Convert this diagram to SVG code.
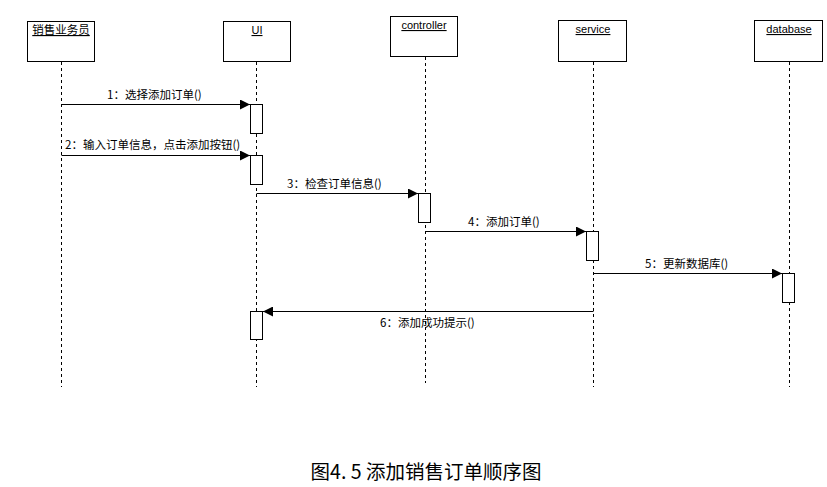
<svg xmlns="http://www.w3.org/2000/svg" width="827" height="487" viewBox="0 0 827 487">
<style>
.box{fill:#fff;stroke:#000;stroke-width:1}
.act{fill:#fff;stroke:#000;stroke-width:1}
.life{stroke:#000;stroke-width:1;stroke-dasharray:3,3;fill:none}
.msg{stroke:#000;stroke-width:1;fill:none}
.name{font-family:"Liberation Sans","Noto Sans CJK SC",sans-serif;font-size:11px;text-decoration:underline;text-anchor:middle;fill:#000}
.lbl{font-family:"Noto Sans CJK SC","DejaVu Sans",sans-serif;font-size:11.5px;fill:#000}
.cap{font-family:"Noto Sans CJK SC",sans-serif;font-size:19.5px;text-anchor:middle;fill:#000}
</style>
<defs>
<marker id="ah" viewBox="0 0 10 10" refX="10" refY="5" markerWidth="10" markerHeight="10" markerUnits="userSpaceOnUse" orient="auto">
<path d="M0,0 L10,5 L0,10 Z" fill="#000"/>
</marker>
</defs>
<rect width="827" height="487" fill="#fff"/>
<g id="lifelines">
<line class="life" x1="61.5" y1="62" x2="61.5" y2="387"/>
<line class="life" x1="256.5" y1="62" x2="256.5" y2="387"/>
<line class="life" x1="425.5" y1="57" x2="425.5" y2="383"/>
<line class="life" x1="593.5" y1="62" x2="593.5" y2="387"/>
<line class="life" x1="789.5" y1="62" x2="789.5" y2="387"/>
</g>
<g id="n-sales"><rect class="box" x="27.5" y="21.5" width="67" height="40"/><text class="name" x="61" y="34" style="font-family:'Noto Sans CJK SC',sans-serif;font-size:11.5px">销售业务员</text></g>
<g id="n-ui"><rect class="box" x="223.5" y="21.5" width="67" height="40"/><text class="name" x="257" y="34">UI</text></g>
<g id="n-controller"><rect class="box" x="390.5" y="16.5" width="67" height="40"/><text class="name" x="424" y="29">controller</text></g>
<g id="n-service"><rect class="box" x="558.5" y="20.5" width="68" height="41"/><text class="name" x="593" y="33">service</text></g>
<g id="n-database"><rect class="box" x="754.5" y="20.5" width="68" height="41"/><text class="name" x="789" y="33">database</text></g>
<g id="activations">
<rect class="act" x="250.5" y="104.5" width="12" height="29"/>
<rect class="act" x="250.5" y="155.5" width="12" height="29"/>
<rect class="act" x="418.5" y="193.5" width="12" height="29"/>
<rect class="act" x="586.5" y="231.5" width="12" height="29"/>
<rect class="act" x="782.5" y="273.5" width="12" height="29"/>
<rect class="act" x="250.5" y="311.5" width="12" height="28"/>
</g>
<g id="connectors">
<line class="msg" x1="61.5" y1="104.5" x2="250" y2="104.5" marker-end="url(#ah)"/>
<line class="msg" x1="61.5" y1="155.5" x2="250" y2="155.5" marker-end="url(#ah)"/>
<line class="msg" x1="256.5" y1="193.5" x2="418" y2="193.5" marker-end="url(#ah)"/>
<line class="msg" x1="425.5" y1="231.5" x2="586" y2="231.5" marker-end="url(#ah)"/>
<line class="msg" x1="593.5" y1="273.5" x2="782" y2="273.5" marker-end="url(#ah)"/>
<line class="msg" x1="593.5" y1="311.5" x2="263" y2="311.5" marker-end="url(#ah)"/>
</g>
<g id="labels">
<text class="lbl" x="107" y="99">1：选择添加订单()</text>
<text class="lbl" x="65" y="149">2：输入订单信息，点击添加按钮()</text>
<text class="lbl" x="287" y="188">3：检查订单信息()</text>
<text class="lbl" x="468" y="226">4：添加订单()</text>
<text class="lbl" x="645" y="268">5：更新数据库()</text>
<text class="lbl" x="380" y="327">6：添加成功提示()</text>
</g>
<text class="cap" x="426" y="479">图4. 5 添加销售订单顺序图</text>
</svg>
